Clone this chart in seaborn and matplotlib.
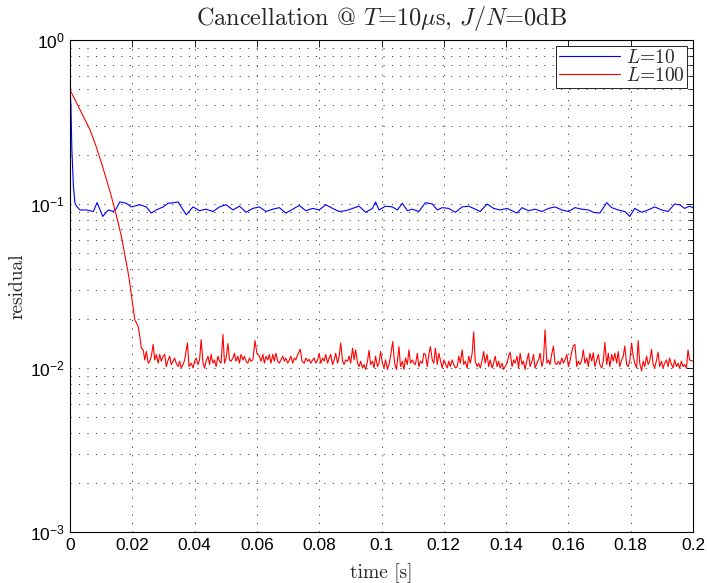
import numpy as np
import pandas as pd
import matplotlib
matplotlib.use("Agg")
import matplotlib.pyplot as plt
import seaborn as sns
from matplotlib.ticker import FixedLocator, FixedFormatter, LogLocator, NullFormatter

# ---------------- data ----------------
series_names = ["$L$=10", "$L$=100"]
series_colors = ["#0000ff", "#ff0000"]

blue_t = [
    0.0000, 0.0003, 0.0006, 0.0011, 0.0016, 0.0021,
    0.0032, 0.0053, 0.0075, 0.0087, 0.0105, 0.0123, 0.0139, 0.0149, 0.0160, 0.0181,
    0.0197, 0.0224, 0.0245, 0.0261, 0.0277, 0.0299, 0.0315, 0.0336, 0.0347, 0.0357,
    0.0373, 0.0395, 0.0416, 0.0437, 0.0459, 0.0480, 0.0501, 0.0523, 0.0544, 0.0565,
    0.0587, 0.0608, 0.0629, 0.0651, 0.0672, 0.0693, 0.0715, 0.0736, 0.0757, 0.0779,
    0.0800, 0.0821, 0.0843, 0.0864, 0.0885, 0.0907, 0.0928, 0.0949, 0.0971, 0.0981,
    0.0992,
    0.1013, 0.1035, 0.1051, 0.1067, 0.1083, 0.1099, 0.1120, 0.1141, 0.1163, 0.1179,
    0.1195, 0.1216, 0.1237, 0.1259, 0.1280, 0.1301, 0.1317, 0.1339, 0.1360, 0.1381,
    0.1403, 0.1419, 0.1435, 0.1451, 0.1472, 0.1493, 0.1515, 0.1536, 0.1557, 0.1579,
    0.1600, 0.1621, 0.1643, 0.1664, 0.1680, 0.1701, 0.1723, 0.1739, 0.1760, 0.1781,
    0.1797, 0.1813, 0.1835, 0.1856, 0.1877, 0.1899, 0.1920, 0.1941, 0.1957, 0.1973,
    0.1989, 0.2000,
]
blue_v = [
    0.521, 0.393, 0.214, 0.128, 0.101, 0.097,
    0.092, 0.092, 0.090, 0.102, 0.084, 0.092, 0.090, 0.094, 0.103, 0.101,
    0.096, 0.099, 0.096, 0.088, 0.092, 0.096, 0.101, 0.102, 0.103, 0.096,
    0.086, 0.096, 0.091, 0.093, 0.090, 0.096, 0.099, 0.092, 0.097, 0.089,
    0.094, 0.096, 0.090, 0.093, 0.095, 0.088, 0.093, 0.098, 0.091, 0.094,
    0.092, 0.099, 0.094, 0.090, 0.091, 0.094, 0.097, 0.089, 0.094, 0.103,
    0.092,
    0.097, 0.096, 0.092, 0.101, 0.091, 0.093, 0.090, 0.102, 0.100, 0.092,
    0.095, 0.094, 0.089, 0.096, 0.097, 0.093, 0.090, 0.100, 0.094, 0.092,
    0.094, 0.091, 0.088, 0.095, 0.091, 0.093, 0.090, 0.094, 0.096, 0.092,
    0.090, 0.095, 0.093, 0.092, 0.089, 0.088, 0.102, 0.095, 0.092, 0.090,
    0.084, 0.094, 0.089, 0.092, 0.096, 0.092, 0.090, 0.100, 0.099, 0.094,
    0.097, 0.095,
]

red_t = [
    0.0000, 0.0016, 0.0032, 0.0048, 0.0064, 0.0083, 0.0101, 0.0117, 0.0133, 0.0149,
    0.0165, 0.0189, 0.0208, 0.0219, 0.0224, 0.0229, 0.0235, 0.0240, 0.0245, 0.0251,
    0.0256, 0.0261, 0.0267, 0.0272, 0.0277, 0.0283, 0.0288, 0.0293, 0.0299, 0.0304,
    0.0309, 0.0315, 0.0320, 0.0325, 0.0331, 0.0336, 0.0341, 0.0347, 0.0352, 0.0357,
    0.0363, 0.0368, 0.0377, 0.0382, 0.0389, 0.0395, 0.0400, 0.0405, 0.0411, 0.0416,
    0.0421, 0.0427, 0.0432, 0.0437, 0.0443, 0.0448, 0.0453, 0.0459, 0.0464, 0.0469,
    0.0475, 0.0480, 0.0485, 0.0491, 0.0496, 0.0501, 0.0507, 0.0512, 0.0517, 0.0523,
    0.0528, 0.0533, 0.0539, 0.0544, 0.0549, 0.0555, 0.0560, 0.0565, 0.0571, 0.0576,
    0.0581, 0.0587, 0.0594, 0.0600, 0.0608, 0.0613, 0.0619, 0.0624, 0.0629, 0.0635,
    0.0640, 0.0645, 0.0651, 0.0656, 0.0661, 0.0667, 0.0672, 0.0677, 0.0683, 0.0688,
    0.0693, 0.0699, 0.0704, 0.0709, 0.0715, 0.0720, 0.0725, 0.0731, 0.0739, 0.0745,
    0.0752, 0.0757, 0.0763, 0.0768, 0.0773, 0.0779, 0.0784, 0.0789, 0.0795, 0.0800,
    0.0805, 0.0811, 0.0816, 0.0821, 0.0827, 0.0832, 0.0837, 0.0843, 0.0848, 0.0853,
    0.0859, 0.0864, 0.0869, 0.0875, 0.0880, 0.0885, 0.0891, 0.0896, 0.0901, 0.0907,
    0.0912, 0.0917, 0.0923, 0.0928, 0.0933, 0.0939, 0.0944, 0.0949, 0.0955, 0.0960,
    0.0965, 0.0971, 0.0976, 0.0981, 0.0987, 0.0992, 0.0997, 0.1003, 0.1008, 0.1013,
    0.1019, 0.1024, 0.1029, 0.1036, 0.1042, 0.1048, 0.1056, 0.1061, 0.1067, 0.1072,
    0.1077, 0.1083, 0.1088, 0.1093, 0.1099, 0.1104, 0.1109, 0.1115, 0.1120, 0.1125,
    0.1131, 0.1136, 0.1141, 0.1147, 0.1152, 0.1157, 0.1163, 0.1168, 0.1173, 0.1179,
    0.1184, 0.1189, 0.1195, 0.1200, 0.1205, 0.1211, 0.1216, 0.1221, 0.1227, 0.1232,
    0.1237, 0.1243, 0.1248, 0.1253, 0.1259, 0.1264, 0.1269, 0.1275, 0.1280, 0.1285,
    0.1291, 0.1296, 0.1301, 0.1307, 0.1312, 0.1317, 0.1323, 0.1328, 0.1333, 0.1339,
    0.1344, 0.1349, 0.1355, 0.1360, 0.1365, 0.1371, 0.1376, 0.1381, 0.1387, 0.1392,
    0.1397, 0.1403, 0.1408, 0.1413, 0.1419, 0.1424, 0.1429, 0.1435, 0.1440, 0.1445,
    0.1451, 0.1456, 0.1461, 0.1467, 0.1472, 0.1477, 0.1483, 0.1488, 0.1493, 0.1499,
    0.1504, 0.1509, 0.1515, 0.1520, 0.1525, 0.1531, 0.1536, 0.1541, 0.1547, 0.1552,
    0.1557, 0.1563, 0.1568, 0.1573, 0.1579, 0.1584, 0.1589, 0.1595, 0.1600, 0.1605,
    0.1611, 0.1616, 0.1621, 0.1627, 0.1632, 0.1637, 0.1643, 0.1648, 0.1653, 0.1659,
    0.1664, 0.1669, 0.1675, 0.1680, 0.1685, 0.1691, 0.1696, 0.1701, 0.1707, 0.1712,
    0.1717, 0.1723, 0.1728, 0.1733, 0.1739, 0.1744, 0.1749, 0.1755, 0.1760, 0.1765,
    0.1771, 0.1776, 0.1781, 0.1787, 0.1792, 0.1797, 0.1803, 0.1808, 0.1813, 0.1819,
    0.1824, 0.1829, 0.1835, 0.1840, 0.1845, 0.1851, 0.1856, 0.1861, 0.1867, 0.1872,
    0.1877, 0.1883, 0.1888, 0.1893, 0.1899, 0.1904, 0.1909, 0.1915, 0.1920, 0.1925,
    0.1931, 0.1936, 0.1941, 0.1947, 0.1952, 0.1957, 0.1963, 0.1968, 0.1973, 0.1979,
    0.1984, 0.1989, 0.2000,
]
red_v = [
    0.497, 0.432, 0.376, 0.327, 0.284, 0.227, 0.178, 0.141, 0.111, 0.0849,
    0.0634, 0.0360, 0.0197, 0.0179, 0.0156, 0.0132, 0.0129, 0.0112, 0.0126, 0.0107,
    0.0110, 0.0118, 0.0139, 0.0112, 0.0121, 0.0107, 0.0121, 0.0110, 0.0118, 0.0121,
    0.0102, 0.0112, 0.0118, 0.0105, 0.0110, 0.0115, 0.0107, 0.0102, 0.0110, 0.0100,
    0.0105, 0.0112, 0.0142, 0.0102, 0.0107, 0.0100, 0.0110, 0.0115, 0.0105, 0.0112,
    0.0149, 0.0107, 0.0100, 0.0110, 0.0118, 0.0105, 0.0121, 0.0107, 0.0112, 0.0102,
    0.0118, 0.0110, 0.0107, 0.0160, 0.0107, 0.0115, 0.0141, 0.0112, 0.0110, 0.0115,
    0.0123, 0.0110, 0.0118, 0.0107, 0.0121, 0.0112, 0.0118, 0.0110, 0.0107, 0.0115,
    0.0110, 0.0112, 0.0147, 0.0123, 0.0118, 0.0110, 0.0121, 0.0107, 0.0118, 0.0112,
    0.0121, 0.0107, 0.0121, 0.0110, 0.0123, 0.0110, 0.0107, 0.0112, 0.0118, 0.0110,
    0.0115, 0.0107, 0.0112, 0.0118, 0.0107, 0.0115, 0.0112, 0.0121, 0.0130, 0.0110,
    0.0107, 0.0115, 0.0110, 0.0113, 0.0107, 0.0112, 0.0115, 0.0107, 0.0112, 0.0123,
    0.0107, 0.0115, 0.0110, 0.0121, 0.0107, 0.0115, 0.0121, 0.0105, 0.0112, 0.0123,
    0.0107, 0.0118, 0.0142, 0.0110, 0.0105, 0.0112, 0.0110, 0.0118, 0.0107, 0.0132,
    0.0112, 0.0129, 0.0107, 0.0102, 0.0110, 0.0100, 0.0105, 0.0098, 0.0110, 0.0128,
    0.0105, 0.0110, 0.0100, 0.0118, 0.0102, 0.0107, 0.0126, 0.0107, 0.0100, 0.0112,
    0.0098, 0.0105, 0.0118, 0.0145, 0.0107, 0.0098, 0.0135, 0.0102, 0.0110, 0.0098,
    0.0115, 0.0105, 0.0129, 0.0107, 0.0112, 0.0107, 0.0105, 0.0123, 0.0102, 0.0110,
    0.0107, 0.0123, 0.0121, 0.0102, 0.0121, 0.0135, 0.0112, 0.0107, 0.0132, 0.0105,
    0.0123, 0.0112, 0.0100, 0.0112, 0.0107, 0.0100, 0.0110, 0.0102, 0.0112, 0.0105,
    0.0100, 0.0102, 0.0118, 0.0107, 0.0129, 0.0105, 0.0110, 0.0100, 0.0118, 0.0107,
    0.0123, 0.0166, 0.0110, 0.0102, 0.0107, 0.0100, 0.0112, 0.0126, 0.0107, 0.0121,
    0.0102, 0.0112, 0.0100, 0.0107, 0.0118, 0.0102, 0.0110, 0.0100, 0.0107, 0.0098,
    0.0102, 0.0107, 0.0118, 0.0125, 0.0102, 0.0112, 0.0107, 0.0118, 0.0100, 0.0123,
    0.0105, 0.0110, 0.0098, 0.0112, 0.0123, 0.0102, 0.0110, 0.0121, 0.0100, 0.0107,
    0.0112, 0.0123, 0.0102, 0.0112, 0.0171, 0.0107, 0.0112, 0.0105, 0.0123, 0.0136,
    0.0107, 0.0105, 0.0110, 0.0105, 0.0115, 0.0107, 0.0112, 0.0121, 0.0102, 0.0110,
    0.0126, 0.0137, 0.0139, 0.0102, 0.0110, 0.0105, 0.0112, 0.0129, 0.0107, 0.0115,
    0.0102, 0.0123, 0.0110, 0.0124, 0.0102, 0.0112, 0.0121, 0.0105, 0.0100, 0.0110,
    0.0143, 0.0105, 0.0123, 0.0102, 0.0121, 0.0110, 0.0123, 0.0107, 0.0126, 0.0102,
    0.0112, 0.0118, 0.0136, 0.0105, 0.0102, 0.0110, 0.0142, 0.0118, 0.0107, 0.0100,
    0.0147, 0.0107, 0.0096, 0.0110, 0.0102, 0.0118, 0.0105, 0.0110, 0.0130, 0.0105,
    0.0100, 0.0112, 0.0125, 0.0102, 0.0110, 0.0100, 0.0107, 0.0112, 0.0102, 0.0115,
    0.0105, 0.0100, 0.0112, 0.0102, 0.0107, 0.0100, 0.0110, 0.0102, 0.0105, 0.0100,
    0.0129, 0.0112, 0.0110,
]

x_ticks = [0, 0.02, 0.04, 0.06, 0.08, 0.1, 0.12, 0.14, 0.16, 0.18, 0.2]
x_tick_labels = ["0", "0.02", "0.04", "0.06", "0.08", "0.1", "0.12", "0.14", "0.16", "0.18", "0.2"]
y_ticks = [1e-3, 1e-2, 1e-1, 1e0]
y_tick_labels = [r"$\mathregular{10^{-3}}$", r"$\mathregular{10^{-2}}$",
                 r"$\mathregular{10^{-1}}$", r"$\mathregular{10^{0}}$"]

title_text = r"Cancellation @ $T$=10$\mu$s, $J/N$=0dB"
x_label = "time [s]"
y_label = "residual"

assert len(blue_t) == len(blue_v) and len(red_t) == len(red_v)

# ---------------- plotting ----------------
sns.set_style("white")
plt.rcParams["font.family"] = ["Liberation Sans", "DejaVu Sans"]
plt.rcParams["mathtext.fontset"] = "cm"
plt.rcParams["axes.unicode_minus"] = True

df = pd.concat([
    pd.DataFrame({"time": blue_t, "residual": blue_v, "series": series_names[0]}),
    pd.DataFrame({"time": red_t, "residual": red_v, "series": series_names[1]}),
], ignore_index=True)
palette = dict(zip(series_names, series_colors))

fig = plt.figure(figsize=(7.07, 5.83), dpi=100)
fig.patch.set_facecolor("white")
ax = fig.add_axes([70 / 707, 1 - 532 / 583, 623 / 707, 492 / 583])

sns.lineplot(data=df, x="time", y="residual", hue="series", hue_order=series_names,
             palette=palette, estimator=None, sort=False, linewidth=0.8, ax=ax,
             legend=False)

ax.set_yscale("log")
ax.set_xlim(0, 0.2)
ax.set_ylim(1e-3, 1)

ax.xaxis.set_major_locator(FixedLocator(x_ticks))
ax.xaxis.set_major_formatter(FixedFormatter(x_tick_labels))
ax.yaxis.set_major_locator(FixedLocator(y_ticks))
ax.yaxis.set_major_formatter(FixedFormatter(y_tick_labels))
ax.yaxis.set_minor_locator(LogLocator(base=10, subs=range(2, 10)))
ax.yaxis.set_minor_formatter(NullFormatter())

ax.tick_params(which="both", direction="in", top=True, right=True,
               colors="black", labelsize=12.5, width=0.6)
ax.tick_params(which="major", length=5, pad=4)
ax.tick_params(which="minor", length=3)

grid_style = dict(linestyle=(0, (1.2, 7.5)), color="0.25", linewidth=0.7)
ax.grid(True, which="major", axis="both", **grid_style)
ax.grid(True, which="minor", axis="y", **grid_style)

for s in ax.spines.values():
    s.set_color("black")
    s.set_linewidth(0.8)

serif = ["cmr10", "DejaVu Serif"]
ax.set_title(title_text, fontfamily=serif, fontsize=17.5, pad=11)
ax.set_xlabel(x_label, fontfamily=serif, fontsize=14, labelpad=8)
ax.set_ylabel(y_label, fontfamily=serif, fontsize=14, labelpad=2)

handles = ax.get_lines()[:2]
leg = ax.legend(handles, series_names, loc="upper right", prop={"family": serif, "size": 14},
                frameon=True, fancybox=False, framealpha=1, edgecolor="black",
                handlelength=3.1, handletextpad=0.3, labelspacing=0.0,
                borderpad=0.15, borderaxespad=0.3)
leg.get_frame().set_linewidth(0.6)

fig.savefig("out.png", dpi=100, facecolor="white")
